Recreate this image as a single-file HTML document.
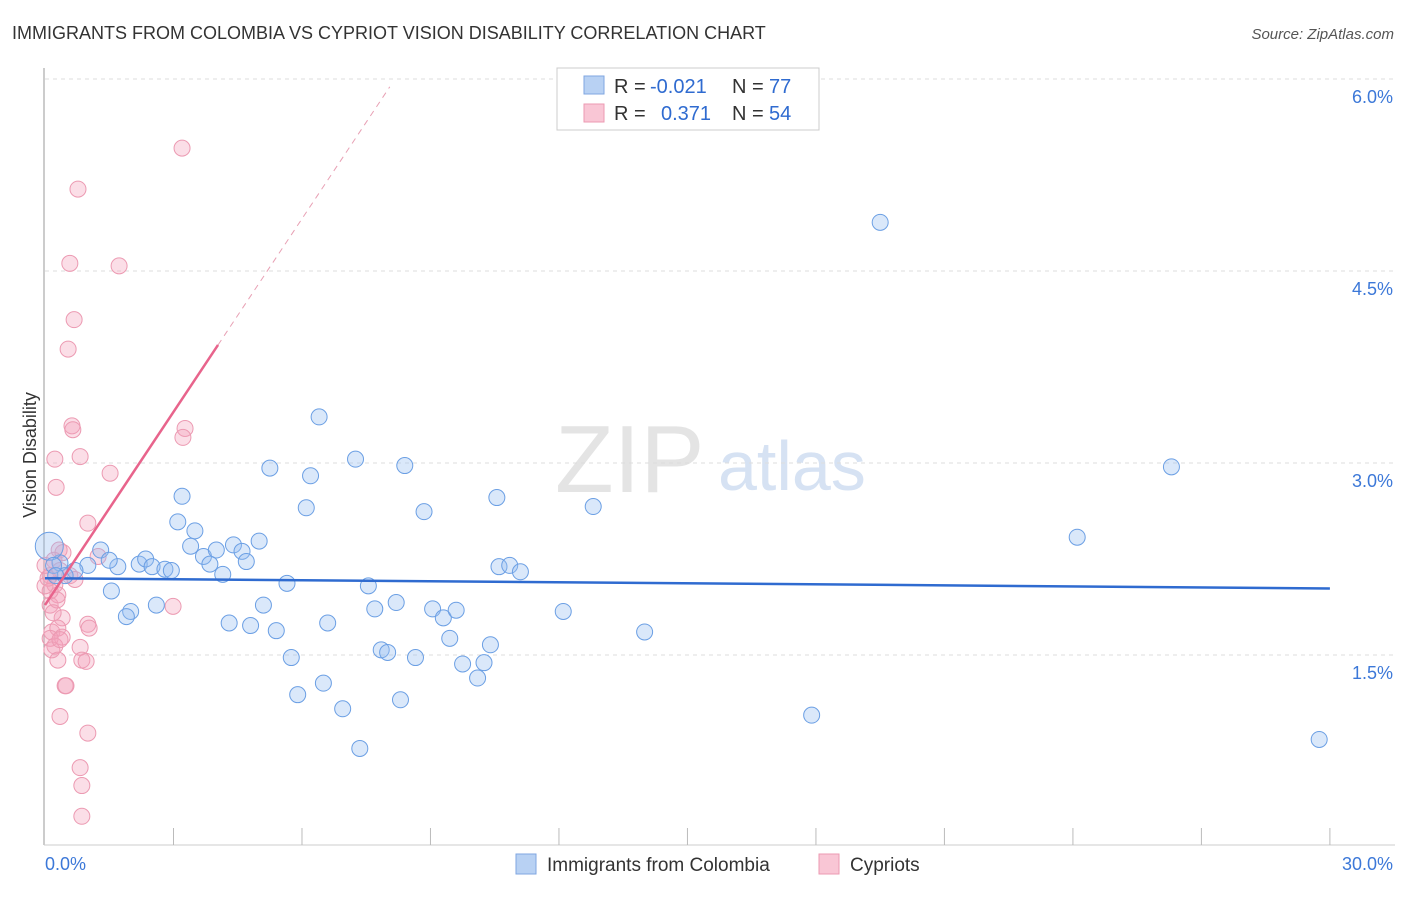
<!DOCTYPE html>
<html><head><meta charset="utf-8"><style>
body{margin:0;background:#fff;font-family:"Liberation Sans",sans-serif;}
svg text{font-family:"Liberation Sans",sans-serif;}
</style></head><body>
<svg id="chart" width="1406" height="892" viewBox="0 0 1406 892">
<text x="12" y="39" font-size="18" fill="#333">IMMIGRANTS FROM COLOMBIA VS CYPRIOT VISION DISABILITY CORRELATION CHART</text>
<text x="1394" y="39" font-size="15" fill="#555" text-anchor="end" font-style="italic">Source: ZipAtlas.com</text>
<text x="555" y="492" font-size="96" fill="#e4e4e4" font-family="Liberation Serif">ZIP</text>
<text x="718" y="490" font-size="70" fill="#d6e2f3">atlas</text>
<g id="grid"></g>
<line x1="44" y1="68" x2="44" y2="845" stroke="#999"/>
<line x1="44" y1="845" x2="1395" y2="845" stroke="#ccc"/>
<text x="36" y="455" font-size="18" fill="#333" text-anchor="middle" transform="rotate(-90 36 455)">Vision Disability</text>
<g id="xticks"></g>
<g id="pinkpts"></g>
<g id="bluepts"></g>
<g id="lines"></g>
<g>
<rect x="557" y="68" width="262" height="62" fill="#fff" stroke="#ccc"/>
<rect x="584" y="76" width="20" height="18" fill="#b8d1f3" stroke="#7fa6e0"/>
<rect x="584" y="104" width="20" height="18" fill="#f9c6d5" stroke="#ec9ab2"/>
<text x="614" y="93" font-size="20" fill="#333">R =</text>
<text x="650" y="93" font-size="20" fill="#2f6bd0">-0.021</text>
<text x="732" y="93" font-size="20" fill="#333">N =</text>
<text x="769" y="93" font-size="20" fill="#2f6bd0">77</text>
<text x="614" y="120" font-size="20" fill="#333">R =</text>
<text x="661" y="120" font-size="20" fill="#2f6bd0">0.371</text>
<text x="732" y="120" font-size="20" fill="#333">N =</text>
<text x="769" y="120" font-size="20" fill="#2f6bd0">54</text>
</g>
<g>
<rect x="516" y="854" width="20" height="20" fill="#b8d1f3" stroke="#7fa6e0"/>
<text x="547" y="871" font-size="19" fill="#333">Immigrants from Colombia</text>
<rect x="819" y="854" width="20" height="20" fill="#f9c6d5" stroke="#ec9ab2"/>
<text x="850" y="871" font-size="19" fill="#333">Cypriots</text>
</g>
</svg>
<script>
const yTicks=[1.5,3.0,4.5,6.0];
const xTickLabels=["0.0%","30.0%"];
const blueX=[3.2,3.1,3.5,3.4,3.7,4.0,4.4,4.6,5.0,4.7,3.85,4.15,2.2,2.35,2.5,2.8,2.95,1.7,1.3,1.5,1.0,0.7,0.35,0.47,1.55,2.6,2.0,1.9,4.3,4.8,5.4,5.1,5.65,5.25,6.2,6.1,6.4,7.25,8.4,8.85,10.55,12.8,7.55,8.2,7.7,6.6,5.75,6.5,5.9,6.95,7.35,7.85,8.0,8.65,8.3,9.05,9.3,9.6,9.45,9.75,10.4,10.25,10.1,10.6,10.85,11.1,12.1,14.0,17.9,19.5,24.1,26.3,29.75,0.1,0.2,0.25];
const blueY=[2.74,2.54,2.47,2.35,2.27,2.32,2.36,2.31,2.39,2.23,2.21,2.13,2.21,2.25,2.19,2.17,2.16,2.19,2.32,2.24,2.2,2.16,2.22,2.12,2.0,1.89,1.84,1.8,1.75,1.73,1.69,1.89,2.06,2.96,2.9,2.65,3.36,3.03,2.98,2.62,2.73,2.66,2.04,1.91,1.86,1.75,1.48,1.28,1.19,1.08,0.77,1.54,1.52,1.48,1.15,1.86,1.79,1.85,1.63,1.43,1.58,1.44,1.32,2.19,2.2,2.15,1.84,1.68,1.03,4.88,2.42,2.97,0.84,2.35,2.2,2.12];
const pinkX=[3.2,0.77,0.58,1.73,0.68,0.54,0.63,0.65,3.27,3.22,0.23,0.82,1.52,0.26,1.0,1.24,0.33,0.21,0.35,0.12,0.23,0.3,0.12,0.28,0.4,0.16,0.3,0.4,1.0,1.03,0.12,0.23,0.16,0.82,0.86,0.96,0.47,0.49,0.35,1.0,0.82,0.86,0.86,2.99,0.42,0.58,0.7,0.07,0.12,0.19,0.3,0.35,0.0,0.0];
const pinkY=[5.46,5.14,4.56,4.54,4.12,3.89,3.29,3.26,3.27,3.2,3.03,3.05,2.92,2.81,2.53,2.27,2.32,2.24,2.16,2.12,2.05,1.97,1.89,1.93,1.79,1.68,1.71,1.64,1.74,1.71,1.63,1.57,1.54,1.56,1.46,1.45,1.26,1.26,1.02,0.89,0.62,0.48,0.24,1.88,2.3,2.12,2.09,2.1,2.0,1.83,1.46,1.62,2.2,2.04];
const X=v=>45+v*42.83, Y=v=>847-v*128;
const NS="http://www.w3.org/2000/svg";
function mk(t,a,p){const e=document.createElementNS(NS,t);for(const k in a)e.setAttribute(k,a[k]);p.appendChild(e);return e;}
const grid=document.getElementById('grid');
yTicks.forEach(t=>{
 const l=mk('line',{x1:45,x2:1395,y1:Y(t),y2:Y(t),stroke:'#ddd','stroke-dasharray':'4,4'},grid);
 
 
 const tx=mk('text',{x:1393,y:Y(t)+24,'font-size':18,fill:'#3c78d8','text-anchor':'end'},grid);
 tx.textContent=t.toFixed(1)+'%';
 
 
});
const xt=document.getElementById('xticks');
for(let i=1;i<=10;i++){
 const l=mk('line',{x1:X(i*3),x2:X(i*3),y1:828,y2:845,stroke:'#bbb'},xt);
 
 
}
[[0,'start',45],[1,'end',1393]].forEach(([i,a,x])=>{
 const t=mk('text',{x:x,y:870,'font-size':18,fill:'#3c78d8','text-anchor':a},xt);
 t.textContent=xTickLabels[i];
 
 
});
const pp=document.getElementById('pinkpts');
pinkX.forEach((v,i)=>{
 const c=mk('circle',{cx:X(v),cy:Y(pinkY[i]),r:8,fill:'rgba(244,160,185,0.35)',stroke:'#ec9ab2','stroke-width':1},pp);
 
 
});
const bp=document.getElementById('bluepts');
blueX.forEach((v,i)=>{
 const c=mk('circle',{cx:X(v),cy:Y(blueY[i]),r:i==73?14:8,fill:'rgba(150,190,240,0.35)',stroke:'#6b9fe4','stroke-width':1},bp);
 
 
});
const ln=document.getElementById('lines');
const b=mk('line',{x1:X(0),y1:Y(2.10),x2:X(30),y2:Y(2.02),stroke:'#2f6bd0','stroke-width':2.5},ln);


const p0=1.89,ps=0.503;
const p=mk('line',{x1:X(0),y1:Y(p0),x2:X(4.04),y2:Y(p0+ps*4.04),stroke:'#e8648c','stroke-width':2.5},ln);


const pd=mk('line',{x1:X(4.04),y1:Y(p0+ps*4.04),x2:X(8.05),y2:Y(p0+ps*8.05),stroke:'#e8a0b4','stroke-width':1,'stroke-dasharray':'6,5'},ln);


</script>
</body></html>
